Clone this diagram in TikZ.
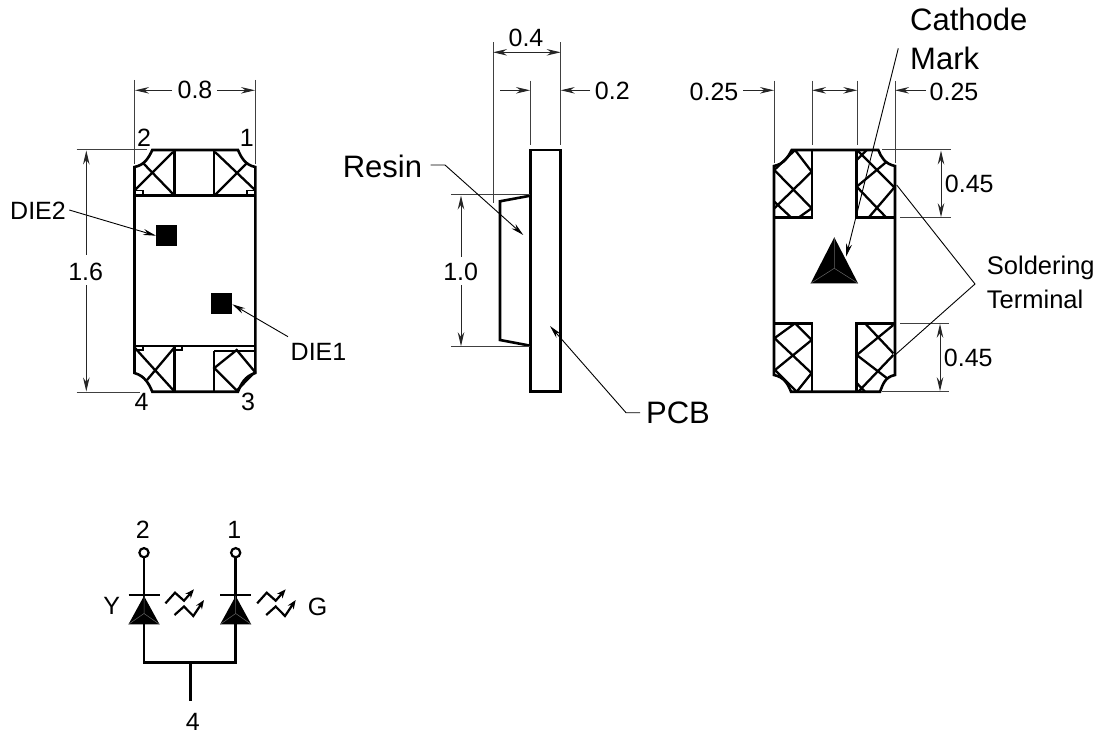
\documentclass[tikz,border=0pt]{standalone}
\usepackage{fontspec}
\setmainfont{Liberation Sans}
\usetikzlibrary{arrows.meta}
\tikzset{
  outline/.style={line width=2.6pt,black,line join=miter},
  hatchline/.style={line width=2.3pt,black},
  extline/.style={line width=1pt,black!75},
  dimline/.style={line width=1pt,black!85},
  dimarrow/.style={dimline,-{Stealth[length=14pt,width=6.5pt]}},
  dimboth/.style={dimline,{Stealth[length=14pt,width=6.5pt]}-{Stealth[length=14pt,width=6.5pt]}},
  leader/.style={line width=0.9pt,black,-{Stealth[length=13pt,width=6pt]}},
  plainleader/.style={line width=0.9pt,black},
  lbl/.style={inner sep=0pt,font=\fontsize{25pt}{28pt}\selectfont},
  biglbl/.style={inner sep=0pt,font=\fontsize{31pt}{36pt}\selectfont},
  midlbl/.style={inner sep=0pt,font=\fontsize{25.5pt}{30pt}\selectfont},
  wire/.style={line width=2.6pt,black},
  lightarrow/.style={line width=2.2pt,black,-{Stealth[length=9pt,width=7pt]}},
}
\begin{document}
\begin{tikzpicture}[x=1pt,y=-1pt]
\useasboundingbox (0,0) rectangle (1105,735);
% ---------- left view ----------
\draw[outline] (134.5,167) .. controls (145,165) and (149,157) .. (152.3,150) -- (238,150)
  .. controls (241,157) and (245,165) .. (255.3,167) -- (255.3,373)
  .. controls (245,376) and (241,384) .. (238,391.7) -- (152.3,391.7)
  .. controls (149,384) and (145,376) .. (134.5,373) -- cycle;
\draw[outline] (134.5,195.5) -- (255.3,195.5) (134.5,346) -- (255.3,346);
\draw[outline] (174.3,150) -- (174.3,195.5) (214,150) -- (214,195.5);
\draw[outline] (174.3,346) -- (174.3,391.7) (214,351) -- (214,391.7) (214,351) -- (255.3,351);
\draw[hatchline] (135,190) -- (173,152) (143,163) -- (174,195)
  (215,152) -- (255,190) (215,195) -- (247,163)
  (135,348) -- (174,391) (147,380) -- (174,348)
  (214.3,368) -- (236.7,350) -- (255,372) -- (236.7,390.5) -- cycle;
\draw[line width=1.5pt] (135,190.5) -- (143,190.5) -- (143,195)
  (247,195) -- (247,190.5) -- (255,190.5)
  (135,350) -- (143,350) -- (143,346)
  (174,346) -- (182,346) -- (182,350) -- (174,350);
\fill (156,225) rectangle (176.7,246.3);
\fill (211,292.7) rectangle (232.3,314.3);
\coordinate (die2pt) at (156,235.7);
\coordinate (die1pt) at (232.3,304.3);
\node[lbl,anchor=east] (die2) at (66,211) {DIE2};
\node[lbl,anchor=west] (die1) at (290.5,351.7) {DIE1};
\coordinate (die2s) at (69.3,210);
\coordinate (die1s) at (288,336.7);
\draw[leader] (die2s) -- (die2pt);
\draw[leader] (die1s) -- (die1pt);
\node[lbl] (n2) at (144,138) {2};
\node[lbl] (n1) at (246.7,138) {1};
\node[lbl] (n4) at (141.7,401.7) {4};
\node[lbl] (n3) at (248,401.7) {3};
\draw[extline] (134.5,80) -- (134.5,164) (255.3,80) -- (255.3,164);
\node[lbl] (d08) at (195,90) {0.8};
\draw[dimarrow] (172,90.3) -- (135,90.3);
\draw[dimarrow] (217,90.3) -- (255,90.3);
\draw[extline] (76.7,150) -- (146.7,150) (76.7,392) -- (140,392);
\node[lbl] (d16) at (85.7,271.7) {1.6};
\draw[dimarrow] (86.3,255) -- (86.3,150.5);
\draw[dimarrow] (86.3,285) -- (86.3,391.5);
% ---------- side view ----------
\draw[outline] (530.3,150) rectangle (560.7,391.7);
\draw[outline] (530.3,195.7) -- (500,201.3) -- (500,340) -- (530.3,345.7);
\draw[extline] (493,42.3) -- (493,202.7) (560.7,42.3) -- (560.7,145) (530,80.7) -- (530,145);
\draw[dimboth] (493,52.3) -- (560.7,52.3);
\node[lbl] (d04) at (526,38.3) {0.4};
\coordinate (a1s) at (500,90.3);
\coordinate (a1e) at (530,90.3);
\draw[dimarrow] (a1s) -- (a1e);
\node[lbl] (d02) at (612.3,91) {0.2};
\draw[dimarrow] (590,90.3) -- (560.7,90.3);
\draw[extline] (451,195) -- (530,195) (451,346.7) -- (530,346.7);
\node[lbl] (d10) at (460.7,271.7) {1.0};
\draw[dimarrow] (461,256.7) -- (461,195.5);
\draw[dimarrow] (461,285) -- (461,346.2);
\node[biglbl,anchor=east] (resin) at (422.3,166.5) {Resin};
\coordinate (resin1) at (445,165);
\coordinate (resinpt) at (523.3,235);
\draw[leader] (430.7,165) -- (resin1) -- (resinpt);
\node[biglbl] (pcb) at (678,413) {PCB};
\coordinate (pcb1) at (626,412.7);
\coordinate (pcbpt) at (550,326);
\draw[leader] (640,412.7) -- (pcb1) -- (pcbpt);
% ---------- bottom view ----------
\draw[outline] (774,166) .. controls (784,164) and (788,157) .. (791.7,150) -- (878.3,150)
  .. controls (881,157) and (885,164) .. (895,166) -- (895,375)
  .. controls (885,377) and (883,384) .. (880,391.7) -- (791,391.7)
  .. controls (788,384) and (784,377) .. (774,375) -- cycle;
\draw[outline] (812,150) -- (812,217.7) -- (774,217.7) (856.7,150) -- (856.7,217.7) -- (895,217.7)
  (774,323.3) -- (812,323.3) -- (812,391.7) (895,323.3) -- (856.7,323.3) -- (856.7,391.7);
\draw[hatchline] (795,150) -- (811.7,171.7) (774.3,170) -- (811.7,208.3) (811.7,171.7) -- (774.3,208.3)
  (795,150) -- (774.3,170) (774.3,201.7) -- (791.7,218) (811.7,208.3) -- (798,218)
  (858,151) -- (895,188) (856.7,186.7) -- (886.7,161.7) (856.7,186.7) -- (886.7,218)
  (895,186.7) -- (868.3,218) (866.7,150) -- (856.7,160)
  (795,323.3) -- (774.3,338.3) (795,323.3) -- (811.7,340) (774.3,338) -- (811.7,373.3)
  (811.7,340) -- (775,370) (775,370) -- (796.7,391.7) (811.7,373) -- (796.7,391.7)
  (865,323.3) -- (893.3,353.3) (893.3,325) -- (856.7,355) (856.7,355) -- (886.7,378)
  (893.3,355) -- (858.3,391.7) (856.7,383) -- (865,391.7);
\fill (834.3,237.3) -- (858,283.3) -- (810.7,283.3) -- cycle;
\draw[line width=0.5pt,black!60] (834.3,237.3) -- (834.3,268.3) (810.7,283.3) -- (834.3,268.3) -- (858,283.3);
\coordinate (markpt) at (846,256.7);
\coordinate (marks) at (898.3,48.3);
\draw[leader] (marks) -- (markpt);
\node[biglbl,anchor=west] (cath) at (910,19) {Cathode};
\node[biglbl,anchor=west] (mark) at (910,58) {Mark};
\draw[extline] (774,80.7) -- (774,163) (812,80.7) -- (812,145) (857.3,80.7) -- (857.3,145) (895,80.7) -- (895,163);
\node[lbl] (d25a) at (714,91.7) {0.25};
\node[lbl] (d25b) at (954,91.7) {0.25};
\draw[dimarrow] (743.3,90.3) -- (774,90.3);
\draw[dimarrow] (926,90.3) -- (895,90.3);
\draw[dimboth] (812,90.3) -- (857.3,90.3);
\draw[extline] (882.3,150) -- (950.7,150) (900,217.7) -- (950.7,217.7)
  (900,323.3) -- (949,323.3) (882.3,391.7) -- (949,391.7);
\draw[dimboth] (941,150.5) -- (941,217.2);
\draw[dimboth] (940,323.8) -- (940,391.2);
\node[lbl] (d45a) at (969.3,184) {0.45};
\node[lbl] (d45b) at (968.3,358.3) {0.45};
\node[midlbl,anchor=west] (sold) at (986.7,268) {Soldering};
\node[midlbl,anchor=west] (term) at (986.7,299.5) {Terminal};
\coordinate (solj) at (975,284);
\coordinate (solt) at (896.7,185);
\coordinate (solb) at (895,355);
\draw[plainleader] (solt) -- (solj) -- (solb);
% ---------- schematic ----------
\tikzset{diodesym/.pic={
  \draw[wire] (0,-37.5) -- (0,70.2);
  \draw[wire] (-15.5,2.5) -- (15.5,2.5);
  \fill (0,3.5) -- (15.5,31.8) -- (-15.5,31.8) -- cycle;
  \draw[line width=0.5pt,black!60] (0,3.5) -- (0,21) (-15.5,31.8) -- (0,21) -- (15.5,31.8);
  \draw[line width=2.2pt,fill=white] (0,-39.8) circle (4.6);
  \draw[lightarrow] (21.5,10.8) -- (31,0.2) -- (40,8.2) -- (50,-3.2);
  \draw[lightarrow] (30.5,22.5) -- (40,14) -- (49.3,23.5) -- (60,7.5);
}}
\pic at (144,592.5) {diodesym};
\pic at (235.7,592.5) {diodesym};
\coordinate (jl) at (144,662.7);
\coordinate (jr) at (235.7,662.7);
\coordinate (jm) at (190.3,662.7);
\coordinate (je) at (190.3,701);
\draw[wire,line cap=rect] (jl) -- (jr);
\draw[wire] (jm) -- (je);
\node[lbl] (s2) at (142.7,530) {2};
\node[lbl] (s1) at (234.3,530) {1};
\node[lbl] (s4) at (192.7,722) {4};
\node[lbl] (sy) at (111.7,605.7) {Y};
\node[lbl] (sg) at (317.7,607) {G};
\end{tikzpicture}
\end{document}
